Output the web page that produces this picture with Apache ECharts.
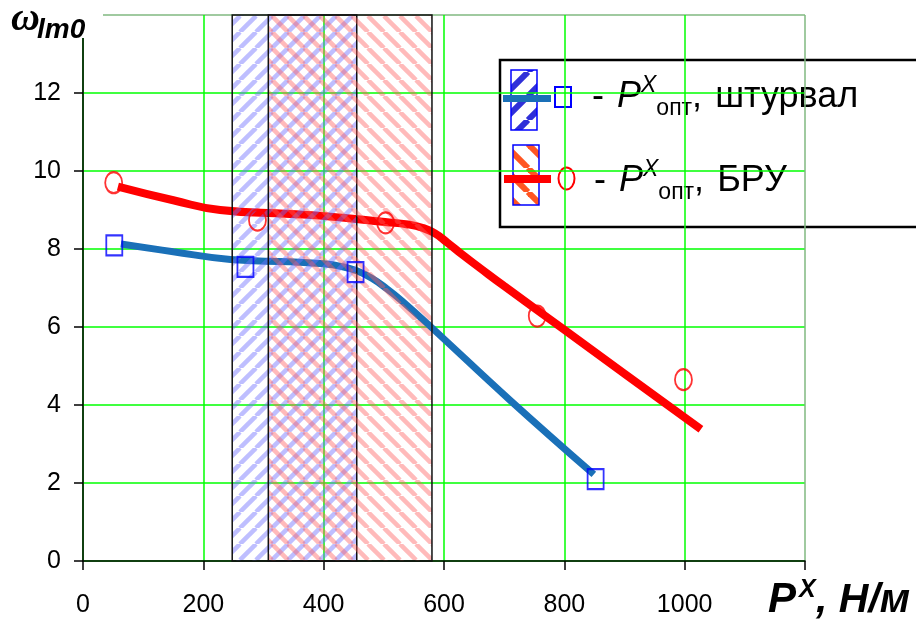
<!DOCTYPE html>
<html>
<head>
<meta charset="utf-8">
<script src="https://cdn.jsdelivr.net/npm/echarts@6/dist/echarts.min.js"></script>
<style>
  html, body { margin: 0; padding: 0; background: #fff; }
  #chart { width: 916px; height: 620px; }
</style>
</head>
<body>
<div id="chart"></div>
<script>
// Experimental points: optimal P^X, steering wheel (штурвал)
const wheelPointsX = [52, 270, 453, 852];
const wheelPointsY = [8.09, 7.54, 7.41, 2.10];
// Experimental points: optimal P^X, БРУ
const bruPointsX = [51, 290, 503, 755, 998];
const bruPointsY = [9.70, 8.74, 8.67, 6.28, 4.65];
// Approximating curves through the points
const wheelCurveX = [63, 150, 245, 344, 400, 430, 455, 480, 505, 530, 577, 710, 849];
const wheelCurveY = [8.13, 7.93, 7.73, 7.67, 7.62, 7.55, 7.44, 7.25, 6.98, 6.67, 6.02, 4.12, 2.22];
const bruCurveX = [58, 150, 228, 344, 411, 502, 540, 565, 585, 605, 630, 660, 700, 800, 900, 1027];
const bruCurveY = [9.60, 9.25, 9.00, 8.90, 8.83, 8.69, 8.63, 8.54, 8.40, 8.17, 7.86, 7.51, 7.05, 5.93, 4.80, 3.38];
// Zones of optimal load along P^X
const wheelZone = [248, 455];
const bruZone = [308, 580];
const zoneBottom = 0;
const zoneTop = 14;
// Axis ranges
const xRange = [0, 1200, 200];
const yRange = [0, 14, 2];

const zip = (xs, ys) => xs.map((x, i) => [x, ys[i]]);

// Diagonal stripe fill used for the zones and the legend swatches
function stripes(color, dir, period, width) {
  const c = document.createElement('canvas');
  c.width = c.height = period;
  const g = c.getContext('2d');
  g.strokeStyle = color;
  g.lineWidth = width;
  for (let k = -1; k <= 1; k++) {
    g.beginPath();
    if (dir === '/') { g.moveTo(k * period, period); g.lineTo(k * period + period, 0); }
    else { g.moveTo(k * period, 0); g.lineTo(k * period + period, period); }
    g.stroke();
  }
  return { image: c, repeat: 'repeat' };
}
const bluePat = stripes('rgba(110,110,255,0.45)', '/', 16, 4.5);
const redPat = stripes('rgba(255,90,90,0.42)', '\\', 16, 4.5);
const blueIconPat = stripes('#3030d8', '/', 24, 6);
const redIconPat = stripes('#ff5522', '\\', 24, 6);

const ellipse = 'path://M0,10A8,10,0,1,1,16,10A8,10,0,1,1,0,10Z';
const GREEN = '#00ff00';
const EDGE = '#80b880';
const sans = 'Liberation Sans';

const chart = echarts.init(document.getElementById('chart'), null, { renderer: 'canvas' });

const legendRich = {
  a: { fontSize: 36, fontFamily: sans, fill: '#000', lineHeight: 46, verticalAlign: 'middle' },
  p: { fontSize: 36, fontFamily: sans, fontStyle: 'italic', fill: '#000', lineHeight: 46, verticalAlign: 'middle', padding: [0, 0, 0, 3] },
  x: { fontSize: 23, fontFamily: sans, fontStyle: 'italic', fill: '#000', lineHeight: 40, verticalAlign: 'top' },
  s: { fontSize: 23, fontFamily: sans, fill: '#000', lineHeight: 24, verticalAlign: 'bottom' },
  c: { fontSize: 36, fontFamily: sans, fill: '#000', lineHeight: 46, verticalAlign: 'middle', padding: [0, 3, 0, 0] }
};

const titleText = (text, x, y, size, family) => ({
  type: 'text', x, y, z: 51,
  style: { text, fontSize: size, fontFamily: family || sans, fontStyle: 'italic', fontWeight: 'bold', fill: '#000', verticalAlign: 'middle' }
});

chart.setOption({
  animation: false,
  backgroundColor: '#fff',
  grid: { left: 83, right: 111, top: 15, bottom: 59, containLabel: false },
  xAxis: {
    type: 'value', min: xRange[0], max: xRange[1], interval: xRange[2],
    axisLine: { show: true, onZero: false, lineStyle: { color: '#000', width: 1.5 } },
    axisTick: { show: true, length: 9, lineStyle: { color: '#000', width: 1.5 } },
    axisLabel: {
      color: '#000', fontSize: 25, fontFamily: sans, margin: 32,
      formatter: v => (v === xRange[1] ? '' : String(v))
    },
    splitLine: { show: true, showMinLine: true, showMaxLine: true,
      lineStyle: { color: [GREEN, GREEN, GREEN, GREEN, GREEN, GREEN, EDGE], width: 1.5 } }
  },
  yAxis: {
    type: 'value', min: yRange[0], max: yRange[1], interval: yRange[2],
    axisLine: { show: true, onZero: false, lineStyle: { color: '#000', width: 1.5 } },
    axisTick: { show: true, length: 9, lineStyle: { color: '#000', width: 1.5 } },
    axisLabel: {
      color: '#000', fontSize: 25, fontFamily: sans, margin: 22,
      formatter: v => (v === yRange[1] ? '' : String(v))
    },
    splitLine: { show: true, showMinLine: true, showMaxLine: true,
      lineStyle: { color: [GREEN, GREEN, GREEN, GREEN, GREEN, GREEN, GREEN, EDGE], width: 1.5 } }
  },
  series: [
    {
      type: 'line', name: 'штурвал', data: zip(wheelCurveX, wheelCurveY),
      smooth: 0.45, showSymbol: false, silent: true, z: 2,
      lineStyle: { color: '#1a70b8', width: 7 }
    },
    {
      type: 'line', name: 'БРУ', data: zip(bruCurveX, bruCurveY),
      smooth: 0.5, showSymbol: false, silent: true, z: 2,
      lineStyle: { color: '#ff0000', width: 8 }
    },
    {
      type: 'custom', silent: true, z: 3, clip: false,
      encode: { x: [0, 1], y: [2, 3] },
      data: [
        [wheelZone[0], wheelZone[1], zoneBottom, zoneTop, 0],
        [bruZone[0], bruZone[1], zoneBottom, zoneTop, 1]
      ],
      renderItem(params, api) {
        const a = api.coord([api.value(0), api.value(3)]);
        const b = api.coord([api.value(1), api.value(2)]);
        return {
          type: 'rect',
          shape: { x: a[0], y: a[1], width: b[0] - a[0], height: b[1] - a[1] },
          style: { fill: api.value(4) ? redPat : bluePat, stroke: '#111', lineWidth: 1.5 }
        };
      }
    },
    {
      type: 'scatter', data: zip(wheelPointsX, wheelPointsY), silent: true, z: 4,
      symbol: 'rect', symbolSize: [16, 20],
      itemStyle: { color: 'rgba(0,0,0,0)', borderColor: '#0000ff', borderWidth: 2 }
    },
    {
      type: 'scatter', data: zip(bruPointsX, bruPointsY), silent: true, z: 4,
      symbol: ellipse, symbolSize: [17, 21],
      itemStyle: { color: 'rgba(0,0,0,0)', borderColor: '#ff0000', borderWidth: 2 }
    }
  ],
  graphic: [
    // y-axis title
    { type: 'rect', left: 0, top: 0, z: 50, shape: { width: 103, height: 38 }, style: { fill: '#fff' } },
    titleText('ω', 11, 20, 40, 'Liberation Serif'),
    titleText('lm0', 37, 30, 28),
    // x-axis title
    titleText('P', 768, 600, 42),
    titleText('X', 799, 590, 25),
    titleText(', Н/м', 816, 601, 41),
    // legend
    {
      type: 'group', z: 60,
      children: [
        { type: 'rect', shape: { x: 500, y: 60, width: 440, height: 167 }, style: { fill: '#fff', stroke: '#000', lineWidth: 2.5 } },
        { type: 'rect', shape: { x: 511, y: 70, width: 26, height: 60 }, style: { fill: blueIconPat, stroke: '#0000ff', lineWidth: 1.5 } },
        { type: 'rect', shape: { x: 503, y: 95, width: 48, height: 7 }, style: { fill: '#1a70b8' } },
        { type: 'rect', shape: { x: 555, y: 87, width: 16, height: 20 }, style: { fill: 'none', stroke: '#0000ff', lineWidth: 2 } },
        {
          type: 'text', x: 592, y: 97,
          style: { text: '{a|-}{a| }{p|P}{x|X}{s|опт}{c|,}{a| штурвал}', verticalAlign: 'middle', rich: legendRich }
        },
        { type: 'rect', shape: { x: 513, y: 145, width: 26, height: 60 }, style: { fill: redIconPat, stroke: '#0000ff', lineWidth: 1.5 } },
        { type: 'rect', shape: { x: 504, y: 175, width: 47, height: 8 }, style: { fill: '#ff0000' } },
        { type: 'ellipse', shape: { cx: 566.5, cy: 178.5, rx: 8, ry: 11 }, style: { fill: 'none', stroke: '#ff0000', lineWidth: 2 } },
        {
          type: 'text', x: 594, y: 181,
          style: { text: '{a|-}{a| }{p|P}{x|X}{s|опт}{c|,}{a| БРУ}', verticalAlign: 'middle', rich: legendRich }
        }
      ]
    }
  ]
});
</script>
</body>
</html>
